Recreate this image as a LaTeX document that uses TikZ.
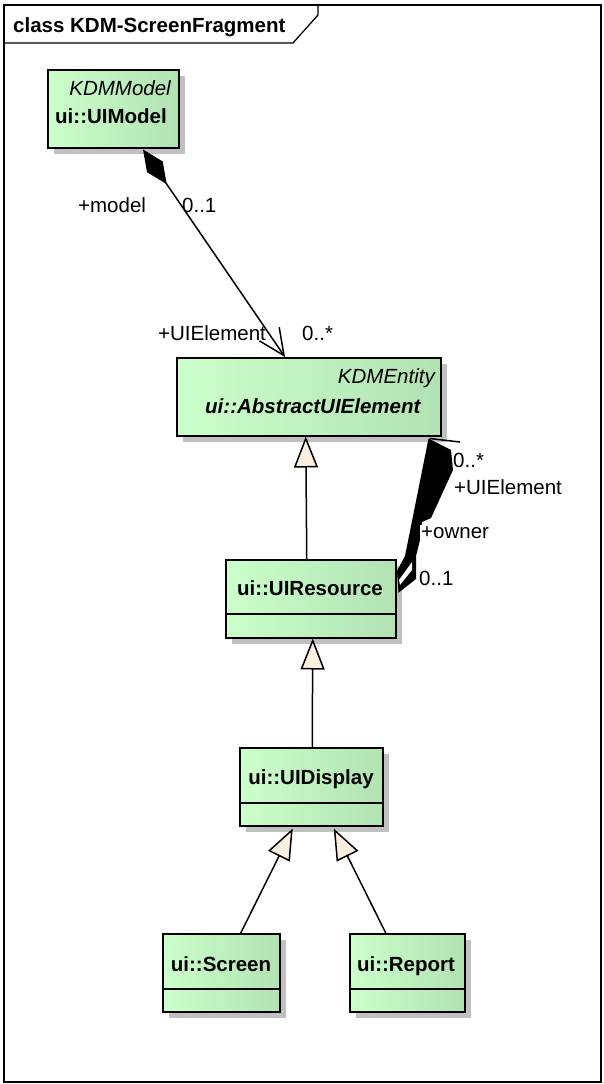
\documentclass[tikz,border=0pt]{standalone}
\usepackage{fontspec}
\setmainfont{Liberation Sans}
\usetikzlibrary{arrows.meta,shadows,calc}
\definecolor{gfill}{RGB}{251,240,223}
\definecolor{boxl}{RGB}{204,255,204}
\definecolor{boxm}{RGB}{200,250,200}
\definecolor{boxr}{RGB}{178,226,178}
\definecolor{shad}{RGB}{192,192,192}
\begin{document}
\begin{tikzpicture}[x=1pt,y=-1pt,
  cls/.style={draw=black, line width=1.5pt, left color=boxl, middle color=boxm, right color=boxr,
    drop shadow={shadow xshift=6pt, shadow yshift=-6pt, fill=shad, opacity=1},
    anchor=north west, inner sep=0pt},
  txt/.style={inner sep=0pt, font=\fontsize{20.5}{24}\selectfont},
  lbl/.style={inner sep=0pt, font=\fontsize{20.5}{24}\selectfont},
  gen/.style={line width=1.5pt, -{Triangle[length=31pt,width=24pt,fill=gfill]}},
  assoc/.style={line width=1.5pt},
  comp/.style={line width=1.5pt}]
\useasboundingbox (0,0) rectangle (603,1084);
% frame
\draw[line width=1.7pt] (4,5) rectangle (601,1082);
\draw[line width=1.3pt] (4,43) -- (293,43) -- (318,15) -- (318,5);
\node[txt, anchor=base west, font=\fontsize{20.5}{24}\selectfont\bfseries] (title) at (13,32) {class KDM-ScreenFragment};

% classes
\node[cls, minimum width=131pt, minimum height=78pt] (model) at (47,69) {};
\node[txt, anchor=base east, font=\fontsize{20.5}{24}\selectfont\itshape] (modelst) at (171,95) {KDMModel};
\node[txt, anchor=base west, font=\fontsize{20.5}{24}\selectfont\bfseries] (modelname) at (55,123) {ui::UIModel};

\node[cls, minimum width=264pt, minimum height=78pt] (abs) at (176,357) {};
\node[txt, anchor=base east, font=\fontsize{20.5}{24}\selectfont\itshape] (absst) at (435,383) {KDMEntity};
\node[txt, anchor=base west, font=\fontsize{20.5}{24}\selectfont\bfseries\itshape] (absname) at (205,413) {ui::AbstractUIElement};

\node[cls, minimum width=170pt, minimum height=78pt] (res) at (225,559) {};
\draw[comp] ($(res.north west)+(0,55)$) -- ($(res.north east)+(0,55)$);
\node[txt, anchor=base, font=\fontsize{20.5}{24}\selectfont\bfseries] (resname) at (310,595) {ui::UIResource};

\node[cls, minimum width=143pt, minimum height=78pt] (disp) at (239,747) {};
\draw[comp] ($(disp.north west)+(0,56)$) -- ($(disp.north east)+(0,56)$);
\node[txt, anchor=base, font=\fontsize{20.5}{24}\selectfont\bfseries] (dispname) at (311,784) {ui::UIDisplay};

\node[cls, minimum width=117pt, minimum height=78pt] (scr) at (162,933) {};
\draw[comp] ($(scr.north west)+(0,56)$) -- ($(scr.north east)+(0,56)$);
\node[txt, anchor=base, font=\fontsize{20.5}{24}\selectfont\bfseries] (scrname) at (221,971) {ui::Screen};

\node[cls, minimum width=115pt, minimum height=78pt] (rep) at (349,933) {};
\draw[comp] ($(rep.north west)+(0,56)$) -- ($(rep.north east)+(0,56)$);
\node[txt, anchor=base, font=\fontsize{20.5}{24}\selectfont\bfseries] (repname) at (406,971) {ui::Report};

% association UIModel -> AbstractUIElement
\draw[assoc, {Diamond[length=42pt,width=19pt,fill=black]}-{Straight Barb[length=26pt,width=24pt,line width=1.5pt]}]
  ($(model.south west)+(96,1)$) -- ($(abs.north west)+(109,0)$);
\node[lbl, anchor=base west] (lmodel) at (78,212) {+model};
\node[lbl, anchor=base west] (lm01) at (182,212) {0..1};
\node[lbl, anchor=base west] (luie) at (158,340) {+UIElement};
\node[lbl, anchor=base west] (luiem) at (302,340) {0..*};

% generalizations
\draw[gen] ($(res.north)+(-4,0)$) -- ($(abs.south)+(-3,0)$);
\draw[gen] ($(disp.north)+(1,0)$) -- ($(res.south)+(2,0)$);
\draw[gen] ($(scr.north)+(19.5,0)$) -- ($(disp.south)+(-18.5,2)$);
\draw[gen] ($(rep.north)+(-21.5,0)$) -- ($(disp.south)+(22.5,2)$);

% self association (drawn as in the reference)
\fill[black] ($(abs.south east)+(-13,2)$) -- (451,450) -- (453,470) -- (431,518) -- (422,522)
  -- (420,540) -- (416,556) -- (416,579) -- ($(res.east)+(2,-6)$) -- (397,571) -- (405,556) -- cycle;
\fill[white] (399,580) -- (412,562) -- (412,570) -- (400,585) -- cycle;
\draw[assoc] ($(abs.south east)+(-12,2)$) -- (460,442);
\node[lbl, anchor=base west] (r0s) at (453,467) {0..*};
\node[lbl, anchor=base west] (ruie) at (454,494) {+UIElement};
\node[lbl, anchor=base west, fill=white, inner sep=1pt] (rown) at (420,538) {+owner};
\node[lbl, anchor=base west] (r01) at (419,585) {0..1};
\end{tikzpicture}
\end{document}
